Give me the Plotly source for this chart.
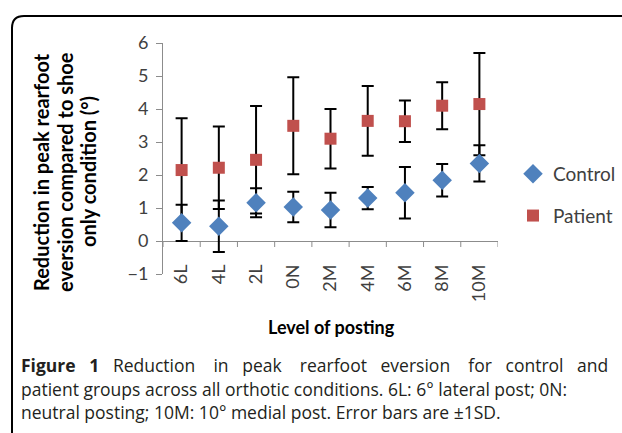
import plotly.graph_objects as go

# ---- data ----
categories = ["6L", "4L", "2L", "0N", "2M", "4M", "6M", "8M", "10M"]
control_mean = [0.55, 0.45, 1.16, 1.03, 0.94, 1.30, 1.46, 1.84, 2.35]
control_sd = [0.55, 0.78, 0.44, 0.46, 0.52, 0.34, 0.78, 0.49, 0.55]
patient_mean = [2.15, 2.22, 2.46, 3.49, 3.10, 3.64, 3.63, 4.10, 4.15]
patient_sd = [1.57, 1.25, 1.63, 1.47, 0.90, 1.06, 0.63, 0.71, 1.55]
y_ticks = [-1, 0, 1, 2, 3, 4, 5, 6]

y_title_lines = ["Reduction in peak rearfoot", "eversion compared to shoe", "only condition (°)"]
x_title = "Level of posting"
caption_lines = [
    "<b>Figure 1</b> Reduction in peak rearfoot eversion for control and",
    "patient groups across all orthotic conditions. 6L: 6° lateral post; 0N:",
    "neutral posting; 10M: 10° medial post. Error bars are ±1SD.",
]
# extra non-breaking spaces per word gap (the original caption is justified)
caption_gap_extra = [[2, 2, 3, 2, 3, 2, 3, 2, 2], None, None]

# ---- layout geometry (pixels) ----
W, H = 622, 433
L, R, T, B = 163, 498, 43, 274


def px(xp):
    return (xp - L) / (R - L)


def py(yp):
    return (B - yp) / (B - T)


def spaced(line, extras):
    if not extras:
        return line
    parts = line.split(" ")
    out = parts[0]
    for part, n in zip(parts[1:], extras):
        out += " " + "\u00a0" * n + part
    return out


CHART_FONT = "Lato"
CAP_FONT = "Open Sans"
BLUE = "#4F81BD"
RED = "#C0504D"
AXIS_GRAY = "#8C8C8C"
TEXT_GRAY = "#404040"

fig = go.Figure()

fig.add_trace(go.Scatter(
    x=categories, y=patient_mean, mode="markers", name="Patient",
    marker=dict(symbol="square", size=12, color=RED),
    error_y=dict(type="data", array=patient_sd, color="black", thickness=2, width=6),
    legendrank=2, legendgroup="p",
))
fig.add_trace(go.Scatter(
    x=categories, y=control_mean, mode="markers", name="Control",
    marker=dict(symbol="diamond", size=15, color=BLUE),
    error_y=dict(type="data", array=control_sd, color="black", thickness=2, width=6),
    legendrank=1, legendgroup="c",
))

shapes = []
# category boundary tick marks hanging from the zero line
for i in range(len(categories) + 1):
    shapes.append(dict(type="line", xref="x", yref="y", x0=i - 0.5, x1=i - 0.5,
                       ysizemode="pixel", yanchor=0, y0=0, y1=-6,
                       line=dict(color=AXIS_GRAY, width=1)))
# rounded frame around figure
xl, xr = px(12), px(640)
yt, yb = py(16), py(450)
rx, ry = 12 / (R - L), 12 / (B - T)
shapes.append(dict(type="path", xref="paper", yref="paper",
                   path=f"M {xl},{yb} L {xl},{yt - ry} Q {xl},{yt} {xl + rx},{yt} L {xr},{yt}",
                   line=dict(color="black", width=2)))

annotations = []
# y-axis title lines
for line, xpix in zip(y_title_lines, [41, 65, 88]):
    annotations.append(dict(text=f"<b>{line}</b>", xref="paper", yref="paper",
                            x=px(xpix), y=py(172), textangle=-90, showarrow=False,
                            xanchor="center", yanchor="middle",
                            font=dict(family=CHART_FONT, size=20, color="black")))
annotations.append(dict(text=f"<b>{x_title}</b>", xref="paper", yref="paper",
                        x=px(331), y=py(327), showarrow=False, xanchor="center", yanchor="middle",
                        font=dict(family=CHART_FONT, size=18, color="black")))
for line, extra, ypix in zip(caption_lines, caption_gap_extra, [365, 389, 412]):
    annotations.append(dict(text=spaced(line, extra), xref="paper", yref="paper", x=px(19), y=py(ypix),
                            showarrow=False, xanchor="left", yanchor="middle",
                            font=dict(family=CAP_FONT, size=17.5, color="#231F20")))

fig.update_layout(
    width=W, height=H,
    margin=dict(l=L, r=W - R, t=T, b=H - B, pad=0, autoexpand=False),
    paper_bgcolor="white", plot_bgcolor="white",
    showlegend=True,
    legend=dict(x=px(513), y=py(195), xanchor="left", yanchor="middle",
                font=dict(family=CHART_FONT, size=19, color=TEXT_GRAY),
                tracegroupgap=14, bgcolor="rgba(0,0,0,0)"),
    xaxis=dict(range=[-0.5, len(categories) - 0.5], showline=False, showgrid=False, zeroline=False,
               ticks="", tickangle=-90, ticklabelstandoff=-14,
               tickfont=dict(family=CHART_FONT, size=18, color=TEXT_GRAY)),
    yaxis=dict(range=[-1, 6], tickvals=y_ticks, showgrid=False, showline=True, linecolor=AXIS_GRAY,
               linewidth=1, ticks="outside", ticklen=6, tickcolor=AXIS_GRAY, ticklabelstandoff=4,
               zeroline=True, zerolinecolor=AXIS_GRAY, zerolinewidth=1,
               tickfont=dict(family=CHART_FONT, size=18, color=TEXT_GRAY)),
    shapes=shapes, annotations=annotations,
)

fig.write_html("out.html", config={"displayModeBar": False},
               post_script="document.body.style.margin='0px';")
